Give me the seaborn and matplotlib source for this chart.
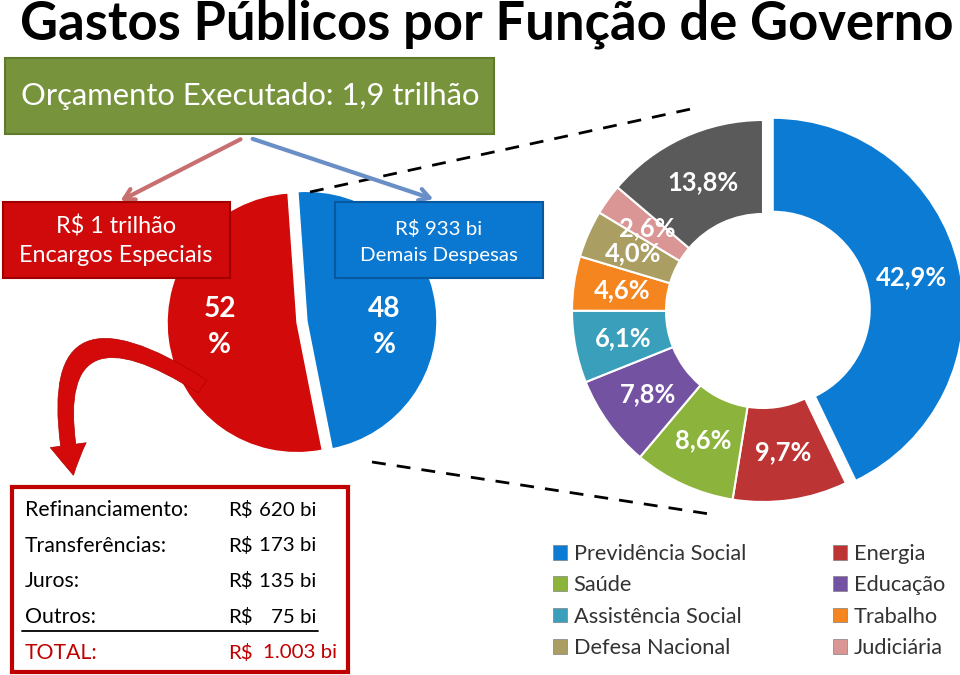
import matplotlib
matplotlib.use("Agg")
import matplotlib.pyplot as plt
import seaborn as sns
from matplotlib.patches import Rectangle, FancyArrowPatch, Patch

# ---------------- data ----------------
title = "Gastos Públicos por Função de Governo"
orcamento_label = "Orçamento Executado: 1,9 trilhão"
split_amounts = ["R$ 1 trilhão", "R$ 933 bi"]
split_names = ["Encargos Especiais", "Demais Despesas"]
split_pct = [52, 48]
enc_items = ["Refinanciamento:", "Transferências:", "Juros:", "Outros:"]
enc_values = [620, 173, 135, 75]
func_names = ["Previdência Social", "Energia", "Saúde", "Educação",
              "Assistência Social", "Trabalho", "Defesa Nacional",
              "Judiciária", "Outras"]
func_pct = [42.9, 9.7, 8.6, 7.8, 6.1, 4.6, 4.0, 2.6, 13.8]
legend_order = ["Previdência Social", "Saúde", "Assistência Social",
                "Defesa Nacional", "Energia", "Educação", "Trabalho",
                "Judiciária"]

# ---------------- style ----------------
sns.set_theme(style="white")
plt.rcParams["font.family"] = ["Lato", "DejaVu Sans"]

func_palette = sns.color_palette(["#0B7BD3", "#BC3434", "#8CB43C", "#7452A2",
                                  "#3A9FBA", "#F5851F", "#AA9E62", "#DA9595",
                                  "#5A5A5A"])
color_map = dict(zip(func_names, func_palette))
split_palette = sns.color_palette(["#D20A0A", "#0A79D2"])

W, H = 960, 675
fig = plt.figure(figsize=(9.6, 6.75), dpi=100)
ax = fig.add_axes([0, 0, 1, 1])


def Y(y):
    return H - y


def pt(p):
    return p * 72 / 100


# ---------------- title ----------------
ax.text(487, Y(24), title, fontsize=pt(52.5), fontweight="bold",
        ha="center", va="center", color="black")

# ---------------- green box ----------------
ax.add_patch(Rectangle((5, Y(134)), 489, 76, facecolor="#77933C",
                       edgecolor="#5E7A2A", lw=1.5, zorder=3))
ax.text(250, Y(96), orcamento_label, color="white", fontsize=pt(31),
        ha="center", va="center", zorder=4)

# thin arrows
ax.annotate("", xy=(118, Y(202)), xytext=(243, Y(138)),
            arrowprops=dict(arrowstyle="->,head_width=0.35,head_length=0.6",
                            color="#C87070", lw=3), zorder=4)
ax.annotate("", xy=(436, Y(200)), xytext=(250, Y(138)),
            arrowprops=dict(arrowstyle="->,head_width=0.35,head_length=0.6",
                            color="#6A8EC6", lw=3), zorder=4)

# dashed connectors
ax.plot([310, 700], [Y(192), Y(107)], color="black", lw=2, ls=(0, (5, 4)), zorder=2)
ax.plot([372, 716], [Y(462), Y(515)], color="black", lw=2, ls=(0, (5, 4)), zorder=2)

# ---------------- left pie ----------------
_, _, split_txt = ax.pie(
    split_pct, colors=split_palette, startangle=94, counterclock=True,
    center=(302, Y(322)), radius=130, explode=[5, 5],
    autopct=lambda p: f"{p:.0f}\n%", pctdistance=0.6,
    textprops=dict(color="white", fontsize=pt(28), fontweight="bold",
                   linespacing=1.5),
    frame=True)
for t in split_txt:
    t.set_position((t.get_position()[0], Y(327)))

# boxes on the pie
ax.add_patch(Rectangle((3, Y(278)), 227, 76, facecolor="#D00A0A",
                       edgecolor="#A00000", lw=1.5, zorder=5))
ax.text(116, Y(227), split_amounts[0], color="white", fontsize=pt(23.5),
        ha="center", va="center", zorder=6)
ax.text(116, Y(256), split_names[0], color="white", fontsize=pt(23.5),
        ha="center", va="center", zorder=6)
ax.add_patch(Rectangle((335, Y(278)), 208, 76, facecolor="#0A78D0",
                       edgecolor="#0858A0", lw=1.5, zorder=5))
ax.text(439, Y(229), split_amounts[1], color="white", fontsize=pt(20.5),
        ha="center", va="center", zorder=6)
ax.text(439, Y(255), split_names[1], color="white", fontsize=pt(20.5),
        ha="center", va="center", zorder=6)

# curved arrow
ax.add_patch(FancyArrowPatch((205, Y(388)), (74, Y(478)),
                             connectionstyle="arc3,rad=1.2",
                             arrowstyle="simple,head_width=2.6,head_length=2.2,tail_width=1.1",
                             mutation_scale=10, facecolor="#D40A0A",
                             edgecolor="#B00000", lw=0.5, zorder=4))

# ---------------- table ----------------
ax.add_patch(Rectangle((12, Y(672)), 336, 185, fill=False,
                       edgecolor="#C00000", lw=3, zorder=3))
fs_tab = pt(21.3)
fs_val = pt(20.5)
for i, (lab, v) in enumerate(zip(enc_items, enc_values)):
    yy = Y(510 + i * 35.7)
    ax.text(25, yy, lab, fontsize=fs_tab, ha="left", va="center", color="black")
    ax.text(228, yy, "R$", fontsize=fs_val, ha="left", va="center", color="black")
    ax.text(316, yy, f"{v} bi", fontsize=fs_val, ha="right", va="center", color="black")
ax.plot([22, 318], [Y(631), Y(631)], color="black", lw=1.3)
tot = sum(enc_values)
ax.text(25, Y(653), "TOTAL:", fontsize=fs_tab, ha="left", va="center", color="#C00000")
ax.text(228, Y(653), "R$", fontsize=fs_val, ha="left", va="center", color="#C00000")
ax.text(337, Y(653), f"{tot:,} bi".replace(",", "."), fontsize=fs_val,
        ha="right", va="center", color="#C00000")

# ---------------- donut ----------------
ftotal = sum(func_pct)
ax.pie(func_pct, colors=func_palette, startangle=90, counterclock=False,
       center=(763, Y(311)), radius=191,
       explode=[10] + [0] * (len(func_pct) - 1),
       wedgeprops=dict(width=94, edgecolor="white", linewidth=1.5),
       autopct=lambda p: f"{p * ftotal / 100:.1f}".replace(".", ",") + "%",
       pctdistance=0.745,
       textprops=dict(color="white", fontsize=pt(25.5), fontweight="bold"),
       frame=True)

# legend
handles = [Patch(facecolor=color_map[n], edgecolor="#808080", lw=0.5)
           for n in legend_order]
ax.legend(handles, legend_order, ncol=2, loc="upper left",
          bbox_to_anchor=(553 / W, 1 - 544 / H), frameon=False,
          fontsize=pt(21.8), handlelength=0.65, handleheight=0.65,
          handletextpad=0.3, columnspacing=4.0, labelspacing=0.52,
          borderpad=0, borderaxespad=0, labelcolor="#333333")

ax.set_xlim(0, W)
ax.set_ylim(0, H)
ax.set_aspect("equal")
ax.axis("off")
fig.savefig("out.png", dpi=100)
